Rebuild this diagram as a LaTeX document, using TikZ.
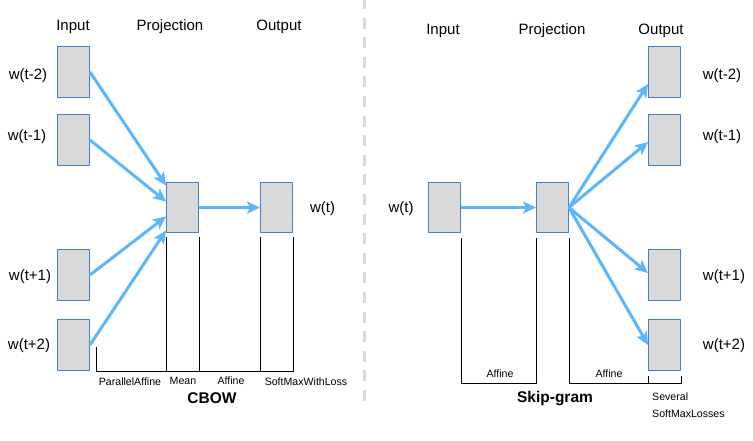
\documentclass[tikz,border=0pt]{standalone}
\usepackage{fontspec}
\setmainfont{Liberation Sans}
\usetikzlibrary{arrows.meta,positioning}
\definecolor{boxgray}{RGB}{217,217,217}
\definecolor{boxblue}{RGB}{66,130,205}
\definecolor{arrblue}{RGB}{92,182,252}
\definecolor{sepgray}{RGB}{218,218,218}
\begin{document}
\begin{tikzpicture}[x=1pt,y=-1pt,line join=round,
  vec/.style={draw=boxblue,line width=1.4pt,fill=boxgray,minimum width=31.5pt,minimum height=50.5pt,inner sep=0pt},
  flow/.style={draw=arrblue,line width=3pt,-{Stealth[length=13pt,width=12pt,inset=3pt]}},
  head/.style={font=\fontsize{15}{18}\selectfont},
  word/.style={font=\fontsize{15}{18}\selectfont},
  tag/.style={font=\fontsize{10.6}{12}\selectfont,inner sep=0pt},
  title/.style={font=\fontsize{15.5}{18}\selectfont\bfseries},
  bar/.style={line width=0.9pt}]
 \useasboundingbox (0,0) rectangle (753,440);
 \def\yl{371}\def\yr{383}
 % separator
 \draw[sepgray,line width=3pt,dash pattern=on 11pt off 8.6pt] (364,-2)--(364,409);
 % ---- CBOW ----
 \node[head] (hin) at (73,27) {Input};
 \node[head] (hproj) at (170,27) {Projection};
 \node[head] (hout) at (279,27) {Output};
 \node[vec] (in1) at (73.5,72) {};
 \node[vec] (in2) at (73.5,140) {};
 \node[vec] (in3) at (73.5,275) {};
 \node[vec] (in4) at (73.5,345) {};
 \node[vec] (proj) at (182.5,207.5) {};
 \node[vec] (out) at (276.5,207.5) {};
 \node[word] (w1) at (28,76) {w(t-2)};
 \node[word] (w2) at (27,137) {w(t-1)};
 \node[word] (w3) at (30,277) {w(t+1)};
 \node[word] (w4) at (29,346) {w(t+2)};
 \node[word] (wt) at (322.5,209) {w(t)};
 \draw[flow] (in1.east) -- ([yshift=22pt]proj.west);
 \draw[flow] (in2.east) -- ([yshift=6pt]proj.west);
 \draw[flow] (in3.east) -- ([yshift=-9pt]proj.west);
 \draw[flow] (in4.east) -- ([yshift=-23pt]proj.west);
 \draw[flow] (proj.east) -- (out.west);
 \draw[bar] (96,347) -- (96,\yl) -- (out.south east |- 0,\yl) -- ([yshift=-4pt]out.south east);
 \draw[bar] ([yshift=-4pt]proj.south west) -- (proj.south west |- 0,\yl);
 \draw[bar] ([yshift=-4pt]proj.south east) -- (proj.south east |- 0,\yl);
 \draw[bar] ([yshift=-4pt]out.south west) -- (out.south west |- 0,\yl);
 \node[tag] (pa) at (130,382) {ParallelAffine};
 \node[tag] (mean) at (183,381) {Mean};
 \node[tag] (aff) at (231,381) {Affine};
 \node[tag] (sml) at (306,382) {SoftMaxWithLoss};
 \node[title] (cbow) at (212,398) {CBOW};
 % ---- Skip-gram ----
 \node[head] (sin-h) at (443,31) {Input};
 \node[head] (sproj-h) at (552,31) {Projection};
 \node[head] (sout-h) at (661,31) {Output};
 \node[vec] (sin) at (444.5,207.5) {};
 \node[vec] (sproj) at (552.5,207.5) {};
 \node[vec] (so1) at (664.5,72) {};
 \node[vec] (so2) at (664.5,140) {};
 \node[vec] (so3) at (664.5,275) {};
 \node[vec] (so4) at (664.5,345) {};
 \node[word] (sw) at (401,209) {w(t)};
 \node[word] (sw1) at (722,76) {w(t-2)};
 \node[word] (sw2) at (722,137) {w(t-1)};
 \node[word] (sw3) at (724,277) {w(t+1)};
 \node[word] (sw4) at (724,346) {w(t+2)};
 \draw[flow] (sin.east) -- (sproj.west);
 \draw[flow] (sproj.east) -- ([yshift=-12pt]so1.west);
 \draw[flow] (sproj.east) -- ([yshift=-2pt]so2.west);
 \draw[flow] (sproj.east) -- ([yshift=2pt]so3.west);
 \draw[flow] (sproj.east) -- (so4.west);
 \draw[bar] ([yshift=-5pt]sin.south east) -- (sin.south east |- 0,\yr) -- (sproj.south west |- 0,\yr) -- ([yshift=-5pt]sproj.south west);
 \draw[bar] ([yshift=-5pt]sproj.south east) -- (sproj.south east |- 0,\yr) -- (so4.south east |- 0,\yr) -- ++(0,-7);
 \draw[bar] (so4.south west |- 0,\yr) -- ++(0,-7);
 \node[tag] (saff1) at (500,374) {Affine};
 \node[tag] (saff2) at (609,374) {Affine};
 \node[tag,anchor=west] (sev) at (652,397) {Several};
 \node[tag,anchor=west] (sevl) at (652,414) {SoftMaxLosses};
 \node[title] (skip) at (555,399) {Skip-gram};
\end{tikzpicture}
\end{document}
